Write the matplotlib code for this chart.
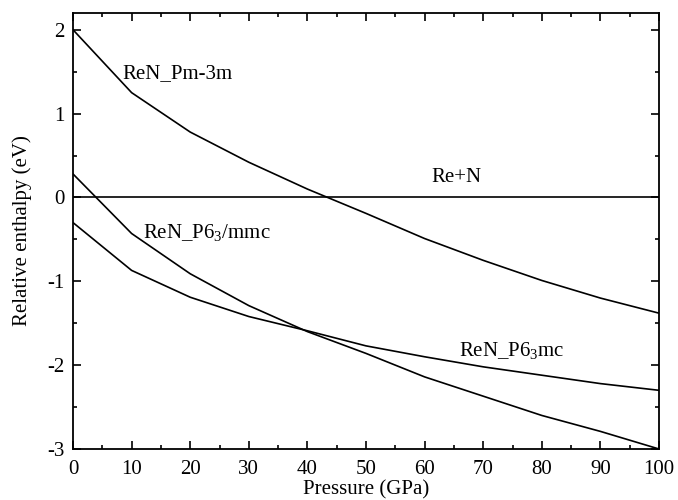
import numpy as np
import matplotlib
matplotlib.use('Agg')
import matplotlib.pyplot as plt
from matplotlib.ticker import MultipleLocator

plt.rcParams['font.family'] = 'Liberation Serif'
plt.rcParams['mathtext.fontset'] = 'custom'
plt.rcParams['mathtext.rm'] = 'Liberation Serif'
plt.rcParams['mathtext.default'] = 'regular'
plt.rcParams['axes.unicode_minus'] = False

# pressure (GPa) and relative enthalpy (eV)
pressure = [0, 10, 20, 30, 40, 50, 60, 70, 80, 90, 100]
h_pm3m = [2.0, 1.25, 0.78, 0.42, 0.10, -0.19, -0.49, -0.75, -0.99, -1.20, -1.38]
h_p63mmc = [0.28, -0.43, -0.91, -1.29, -1.60, -1.86, -2.14, -2.37, -2.60, -2.79, -3.0]
h_p63mc = [-0.30, -0.87, -1.19, -1.42, -1.59, -1.77, -1.90, -2.02, -2.12, -2.22, -2.30]
h_ren = [0.0] * len(pressure)

fig = plt.figure(figsize=(6.78, 5.0), dpi=100)
ax = fig.add_axes([0.1077, 0.102, 0.8643, 0.872])

for h in (h_pm3m, h_p63mmc, h_p63mc, h_ren):
    ax.plot(pressure, h, color='black', lw=1.2)

ax.text(8.5, 1.48, 'ReN_Pm-3m', fontsize=15, va='center', ha='left')
ax.text(65.5, 0.24, 'Re+N', fontsize=15, va='center', ha='center')
ax.text(11.9, -0.42, 'ReN_P6$_3$/mmc', fontsize=15, va='center', ha='left')
ax.text(65.9, -1.83, 'ReN_P6$_3$mc', fontsize=15, va='center', ha='left')

ax.set_xlim(0, 100)
ax.set_ylim(-3, 2.2)
ax.xaxis.set_major_locator(MultipleLocator(10))
ax.xaxis.set_minor_locator(MultipleLocator(5))
ax.yaxis.set_major_locator(MultipleLocator(1))
ax.yaxis.set_minor_locator(MultipleLocator(0.5))
ax.tick_params(which='both', direction='in', top=True, right=True, labelsize=15, width=1.2)
ax.tick_params(which='major', length=6)
ax.tick_params(axis='x', which='major', pad=8)
ax.tick_params(axis='y', which='major', pad=6)
ax.tick_params(which='minor', length=3)
for s in ax.spines.values():
    s.set_linewidth(1.3)

ax.set_xlabel('Pressure (GPa)', fontsize=15, labelpad=1)
ax.set_ylabel('Relative enthalpy (eV)', fontsize=15, labelpad=11)

fig.savefig('out.png', dpi=100)
